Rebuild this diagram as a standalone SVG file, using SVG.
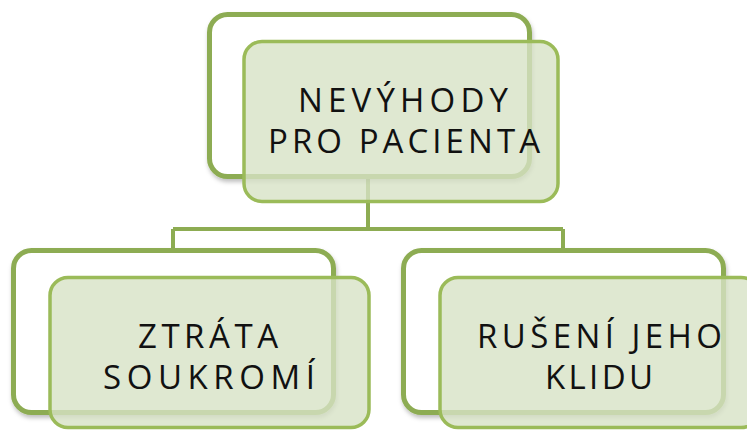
<svg xmlns="http://www.w3.org/2000/svg" width="747" height="432" viewBox="0 0 747 432">
<defs>
<filter id="sh" x="-10%" y="-10%" width="120%" height="130%">
<feDropShadow dx="1" dy="3" stdDeviation="2" flood-color="#000" flood-opacity="0.25"/>
</filter>
</defs>
<style>
.back{fill:#ffffff;stroke:#8DAC52;stroke-width:5;filter:url(#sh)}
.front{fill:#D7E2C6;fill-opacity:0.8;stroke:#9BBB59;stroke-width:3.5}
.conn{fill:none;stroke:#8DAC52;stroke-width:4}
.t{font-family:"Open Sans","Noto Sans",sans-serif;font-size:33px;fill:#111;text-anchor:middle}
</style>
<rect width="747" height="432" fill="#ffffff"/>
<g id="connectors">
<path class="conn" d="M368,176 V229 M173,229 H563 M173,229 V250 M563,229 V250"/>
</g>
<g id="node-top">
<rect class="back" x="209.5" y="14.5" width="320" height="162" rx="18"/>
<rect class="front" x="244" y="41.5" width="314" height="160" rx="18"/>
<text class="t" x="403" y="112" textLength="210" lengthAdjust="spacing">NEVÝHODY</text>
<text class="t" x="404" y="153" textLength="272" lengthAdjust="spacing">PRO PACIENTA</text>
</g>
<g id="node-left">
<rect class="back" x="13.5" y="250.5" width="320" height="162" rx="18"/>
<rect class="front" x="50" y="277.5" width="319" height="150" rx="18"/>
<text class="t" x="208" y="348" textLength="140" lengthAdjust="spacing">ZTRÁTA</text>
<text class="t" x="209" y="389" textLength="212" lengthAdjust="spacing">SOUKROMÍ</text>
</g>
<g id="node-right">
<rect class="back" x="403.5" y="250.5" width="320" height="162" rx="18"/>
<rect class="front" x="440" y="277.5" width="319" height="150" rx="18"/>
<text class="t" x="599.5" y="348" textLength="245" lengthAdjust="spacing">RUŠENÍ JEHO</text>
<text class="t" x="599" y="389" textLength="108" lengthAdjust="spacing">KLIDU</text>
</g>
</svg>
